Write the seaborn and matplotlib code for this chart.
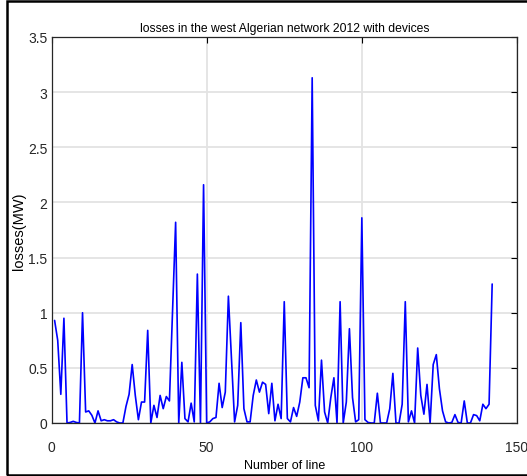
import matplotlib
matplotlib.use("Agg")
import matplotlib.pyplot as plt
import seaborn as sns
import pandas as pd
from matplotlib.patches import Rectangle

line_numbers = list(range(1, 143))
losses = [
    0.93, 0.75, 0.26, 0.95, 0.0, 0.005, 0.015, 0.005, 0.0, 1.0,
    0.10, 0.11, 0.07, 0.0, 0.11, 0.02, 0.03, 0.02, 0.02, 0.03,
    0.01, 0.0, 0.0, 0.15, 0.26, 0.53, 0.25, 0.03, 0.19, 0.19,
    0.84, 0.0, 0.16, 0.05, 0.25, 0.13, 0.24, 0.2, 1.0, 1.82,
    0.0, 0.55, 0.04, 0.01, 0.18, 0.01, 1.35, 0.0, 2.16, 0.0,
    0.01, 0.04, 0.05, 0.36, 0.14, 0.28, 1.15, 0.58, 0.01, 0.16,
    0.91, 0.13, 0.01, 0.01, 0.25, 0.39, 0.28, 0.37, 0.35, 0.085,
    0.36, 0.02, 0.17, 0.04, 1.10, 0.04, 0.01, 0.14, 0.06, 0.19,
    0.41, 0.41, 0.32, 3.13, 0.16, 0.02, 0.57, 0.10, 0.0, 0.23,
    0.41, 0.0, 1.10, 0.0, 0.19, 0.855, 0.23, 0.01, 0.03, 1.86,
    0.03, 0.005, 0.0, 0.0, 0.27, 0.0, 0.0, 0.0, 0.13, 0.45,
    0.0, 0.0, 0.17, 1.10, 0.01, 0.11, 0.0, 0.68, 0.25, 0.08,
    0.35, 0.0, 0.53, 0.62, 0.31, 0.11, 0.01, 0.0, 0.005, 0.076,
    0.005, 0.0, 0.2, 0.0, 0.0, 0.076, 0.067, 0.02, 0.17, 0.13,
    0.17, 1.26,
]
x_ticks = [0, 50, 100, 150]
y_ticks = [0, 0.5, 1, 1.5, 2, 2.5, 3, 3.5]
y_tick_labels = ["0", "0.5", "1", "1.5", "2", "2.5", "3", "3.5"]
title = "losses in the west Algerian network 2012 with devices"
xlabel = "Number of line"
ylabel = "losses(MW)"

sns.set_style("white")
plt.rcParams["font.family"] = ["Liberation Sans", "DejaVu Sans"]

df = pd.DataFrame({"line": line_numbers, "loss": losses})

fig = plt.figure(figsize=(5.27, 4.77), dpi=100)
ax = fig.add_axes([51.5 / 527, 1 - 424 / 477, (517 - 51.5) / 527, (424 - 38) / 477])

sns.lineplot(data=df, x="line", y="loss", ax=ax, color="#0000ff", linewidth=1.2)

ax.set_xlim(0, 150)
ax.set_ylim(0, 3.5)
ax.set_xticks(x_ticks)
ax.set_xticklabels([str(t) for t in x_ticks])
ax.set_yticks(y_ticks)
ax.set_yticklabels(y_tick_labels)
ax.grid(True, color="#e3e3e3", linewidth=1.3)
ax.set_axisbelow(True)
ax.tick_params(direction="in", length=4, width=0.8, top=True, right=True,
               labelsize=10, colors="black")
ax.tick_params(axis="y", pad=3)
ax.tick_params(axis="x", pad=12)
for t in ax.get_xticklabels() + ax.get_yticklabels():
    t.set_color("#262626")
for s in ax.spines.values():
    s.set_visible(True)
    s.set_color("#262626")
    s.set_linewidth(0.9)

ax.set_title(title, fontsize=8.7, color="black", pad=4)
ax.set_xlabel(xlabel, fontsize=9, color="black", labelpad=4)
ax.set_ylabel(ylabel, fontsize=10.5, color="black", labelpad=1.5)

border = Rectangle((7 / 527, 1 / 477), 1.2, (475 - 1) / 477, transform=fig.transFigure,
                   fill=False, edgecolor="black", linewidth=1.8, clip_on=False)
fig.patches.append(border)

fig.savefig("out.png", dpi=100)
